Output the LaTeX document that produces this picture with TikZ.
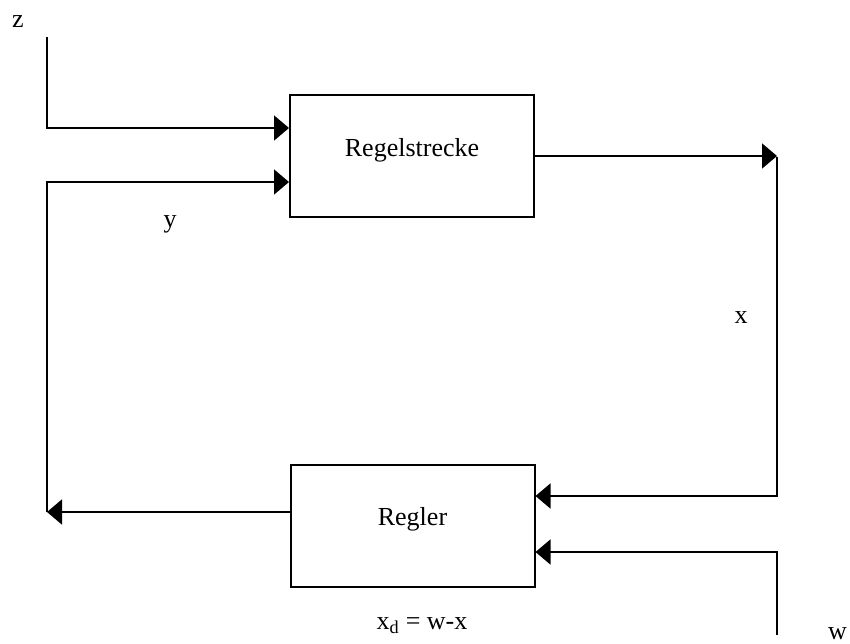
\documentclass[tikz,border=0pt]{standalone}
\usepackage{fontspec}
\setmainfont{Liberation Serif}
\usetikzlibrary{arrows.meta}
\begin{document}
\begin{tikzpicture}[x=1pt,y=-1pt,
  blockbox/.style={draw,line width=2pt,minimum width=244pt,minimum height=122pt,inner sep=0pt,text height=0pt,text depth=0pt,font=\fontsize{26}{30}\selectfont},
  lbl/.style={anchor=base,inner sep=0pt,font=\fontsize{26}{30}\selectfont},
  conn/.style={line width=1.7pt},
  arr/.style={conn,-{Triangle[length=15pt,width=25pt]}}]
\clip (0,0) rectangle (850,643);
\node[blockbox] (rs) at (412,156) {Regelstrecke};
\node[blockbox] (rg) at (412.5,525.5) {Regler};
\coordinate (zt) at (47,37);
\coordinate (yl) at (47,512);
\coordinate (xc) at (777,157);
\coordinate (wc) at (777,635);
\draw[arr] (zt) |- ([yshift=28pt]rs.west);
\draw[arr] ([yshift=13.5pt]rg.west) -- (yl);
\draw[arr] (yl) |- ([yshift=-26pt]rs.west);
\draw[arr] (rs.east) -- (rs.east -| xc);
\draw[arr] (xc) |- ([yshift=29.5pt]rg.east);
\draw[arr] (wc) |- ([yshift=-26.5pt]rg.east);
\node[lbl] (zl) at (18,27) {z};
\node[lbl] (ylab) at (170,227) {y};
\node[lbl] (xlab) at (741,323) {x};
\node[lbl] (xd) at (422,629) {x\textsubscript{d} = w-x};
\node[lbl,anchor=base west] (wl) at (828,639) {w};
\end{tikzpicture}
\end{document}
